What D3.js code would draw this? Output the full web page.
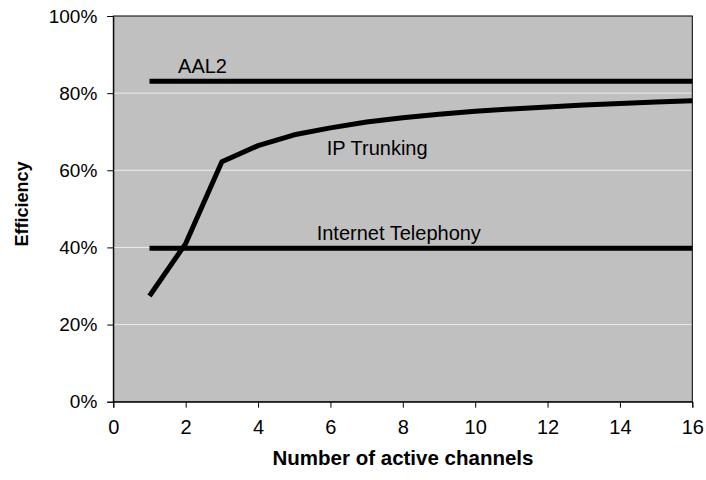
<!DOCTYPE html>
<html><head><meta charset="utf-8">
<script src="https://cdn.jsdelivr.net/npm/d3@7"></script>
<style>body{margin:0;background:#fff}svg{display:block}text{font-family:"Liberation Sans",Arial,sans-serif;fill:#000}</style>
</head><body>
<svg id="c" width="706" height="480"></svg>
<script>
const channels = d3.range(1, 17);
const ipTrunking = [27.4, 41.0, 62.2, 66.4, 69.2, 71.0, 72.5, 73.6, 74.5, 75.3, 75.9, 76.4, 76.9, 77.3, 77.7, 78.0];
const aal2 = [83.1, 83.1];
const internetTelephony = [39.8, 39.8];
const flatX = [1, 16];
const xTicks = [0, 2, 4, 6, 8, 10, 12, 14, 16];
const yTicks = [0, 20, 40, 60, 80, 100];
const seriesLabels = [
  {name: "AAL2", x: 1.79, y: 85.2},
  {name: "IP Trunking", x: 5.9, y: 64.0},
  {name: "Internet Telephony", x: 5.62, y: 41.9}
];

const svg = d3.select("#c");
const L = 113.3, R = 692.3, T = 16, B = 401.7;
const x = d3.scaleLinear().domain([0, 16]).range([L, R]);
const y = d3.scaleLinear().domain([0, 100]).range([B, T]);

svg.append("rect").attr("x", L).attr("y", T).attr("width", R - L).attr("height", B - T)
  .attr("fill", "#c0c0c0");
svg.append("g").selectAll("line").data(yTicks.filter(d => d > 0 && d < 100)).join("line")
  .attr("x1", L).attr("x2", R).attr("y1", d => y(d)).attr("y2", d => y(d))
  .attr("stroke", "#ececec").attr("stroke-width", 1);
svg.append("rect").attr("x", L).attr("y", T).attr("width", R - L).attr("height", B - T)
  .attr("fill", "none").attr("stroke", "#000").attr("stroke-width", 1);

const yAxis = svg.append("g").attr("transform", `translate(${L},0)`)
  .call(d3.axisLeft(y).tickValues(yTicks).tickFormat(d => d + "%").tickSize(6).tickPadding(10));
const xAxis = svg.append("g").attr("transform", `translate(0,${B})`)
  .call(d3.axisBottom(x).tickValues(xTicks).tickSize(6).tickPadding(12));
[yAxis, xAxis].forEach(g => {
  g.select(".domain").attr("stroke", "#000");
  g.selectAll(".tick line").attr("stroke", "#000");
  g.selectAll("text").attr("font-family", "Liberation Sans, Arial, sans-serif").attr("fill", "#000");
});
yAxis.selectAll("text").attr("font-size", 19);
xAxis.selectAll("text").attr("font-size", 20);

const line = d3.line().x(d => x(d[0])).y(d => y(d[1]));
const stroke = g => g.attr("fill", "none").attr("stroke", "#000").attr("stroke-width", 5).attr("stroke-linejoin", "round");
svg.append("path").datum(flatX.map((d, i) => [d, aal2[i]])).attr("d", line).call(stroke);
svg.append("path").datum(flatX.map((d, i) => [d, internetTelephony[i]])).attr("d", line).call(stroke);
svg.append("path").datum(channels.map((d, i) => [d, ipTrunking[i]])).attr("d", line).call(stroke);

svg.append("g").selectAll("text").data(seriesLabels).join("text")
  .attr("x", d => x(d.x)).attr("y", d => y(d.y)).attr("font-size", 20).text(d => d.name);

svg.append("text").attr("x", 403).attr("y", 465).attr("text-anchor", "middle")
  .attr("font-size", 20.5).attr("font-weight", "bold").text("Number of active channels");
svg.append("text").attr("transform", "translate(28,204) rotate(-90)").attr("text-anchor", "middle")
  .attr("font-size", 18).attr("font-weight", "bold").text("Efficiency");
</script>
</body></html>
